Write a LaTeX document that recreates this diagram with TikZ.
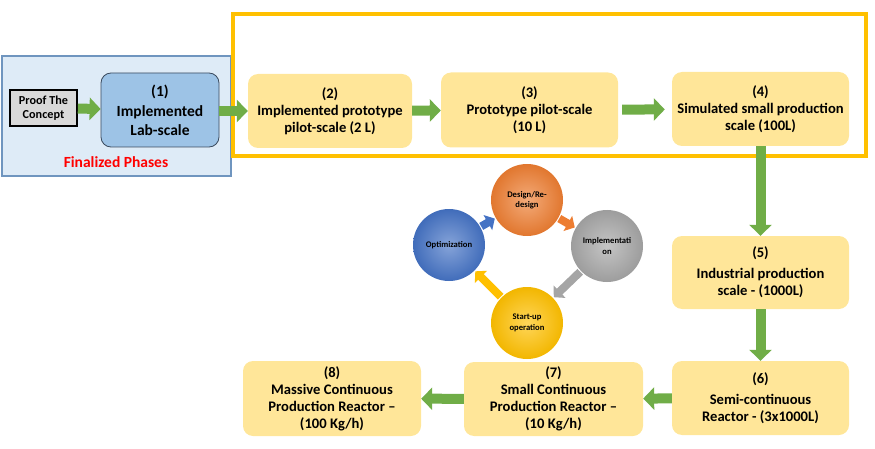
\documentclass[tikz,border=0pt]{standalone}
\usepackage{fontspec}
\setmainfont{Carlito}
\usetikzlibrary{arrows.meta}

\definecolor{stagefill}{HTML}{FFE699}
\definecolor{labfill}{HTML}{9DC3E6}
\definecolor{labedge}{HTML}{3B4B5E}
\definecolor{panelfill}{HTML}{DEEBF7}
\definecolor{paneledge}{HTML}{6F95BF}
\definecolor{frameyellow}{HTML}{FFC000}
\definecolor{flowgreen}{HTML}{70AD47}
\definecolor{cycorange}{HTML}{ED7D31}
\definecolor{cycgray}{HTML}{A5A5A5}
\definecolor{cycyellow}{HTML}{FFC000}
\definecolor{cycblue}{HTML}{4472C4}

\begin{document}
\begin{tikzpicture}[x=1pt, y=-1pt,
  stage/.style={fill=stagefill, rounded corners=10pt, align=center, inner sep=2pt,
    font=\bfseries\fontsize{14.6}{17}\selectfont},
  flow/.style={draw=flowgreen, line width=10pt, -{Triangle[width=22pt,length=11pt]}},
  phase/.style={circle, minimum size=72pt, inner sep=0pt, align=center,
    shading=radial, inner color=#1!65!white, outer color=#1!95!black,
    font=\bfseries\fontsize{8.6}{10.5}\selectfont},
  turn/.style={draw=#1, line width=8pt, shorten <=1pt, shorten >=1pt,
    -{Triangle[width=17pt,length=8pt]}}]
  \useasboundingbox (0,0) rectangle (875,449);

  % finalized part
  \fill[panelfill, draw=paneledge, line width=1.2pt] (2,56) rectangle (231,176);
  \node[text=red, font=\bfseries\fontsize{15.5}{17}\selectfont] (done) at (116,162) {Finalized Phases};
  \draw[frameyellow, line width=3.5pt] (233,14) rectangle (866,156);

  \node[draw=black, line width=1.6pt, fill=black!15, minimum width=67pt, minimum height=36pt,
    align=center, inner sep=1pt, font=\bfseries\fontsize{12.2}{14}\selectfont] (proof) at (43.5,108) {Proof The\\Concept};
  \node[stage, fill=labfill, draw=labedge, line width=0.8pt, minimum width=118pt, minimum height=74pt,
    font=\bfseries\fontsize{15.5}{18.5}\selectfont] (s1) at (160,110) {(1)\\[2pt]Implemented\\Lab-scale};

  % stages
  \node[stage, minimum width=164pt, minimum height=74pt] (s2) at (330,111) {(2)\\Implemented prototype\\pilot-scale (2 L)};
  \node[stage, minimum width=177pt, minimum height=75pt] (s3) at (529.5,110) {(3)\\Prototype pilot-scale\\(10 L)};
  \node[stage, minimum width=177pt, minimum height=74pt] (s4) at (760.5,109) {(4)\\Simulated small production\\scale (100L)};
  \node[stage, minimum width=177pt, minimum height=73pt] (s5) at (760.5,272.5) {(5)\\[4pt]Industrial production\\scale - (1000L)};
  \node[stage, minimum width=177pt, minimum height=74pt] (s6) at (760.5,398) {(6)\\[4pt]Semi-continuous\\Reactor - (3x1000L)};
  \node[stage, minimum width=179pt, minimum height=74pt] (s7) at (553.5,399) {(7)\\Small Continuous\\Production Reactor --\\(10 Kg/h)};
  \node[stage, minimum width=178pt, minimum height=75pt] (s8) at (332,398.5) {(8)\\Massive Continuous\\Production Reactor --\\(100 Kg/h)};

  \draw[flow] (proof) -- (s1);
  \draw[flow] (s1.east |- s2.west) -- (s2.west);
  \draw[flow] (s2) -- (s3);
  \draw[flow, shorten <=4pt, shorten >=7pt] (s3) -- (s4);
  \draw[flow] (s4) -- (s5);
  \draw[flow] (s5) -- (s6);
  \draw[flow] (s6) -- (s7);
  \draw[flow] (s7) -- (s8);

  % cycle
  \node[phase=cycorange] (design) at (527,200) {Design/Re-\\design};
  \node[phase=cycgray] (impl) at (607,246) {Implementati\\on};
  \node[phase=cycyellow] (start) at (527,323) {Start-up\\operation};
  \node[phase=cycblue] (optim) at (449,245) {Optimization};

  \draw[turn=cycorange] (design) -- (impl);
  \draw[turn=cycgray] (impl) -- (start);
  \draw[turn=cycyellow] (start) -- (optim);
  \draw[turn=cycblue] (optim) -- (design);
\end{tikzpicture}
\end{document}
